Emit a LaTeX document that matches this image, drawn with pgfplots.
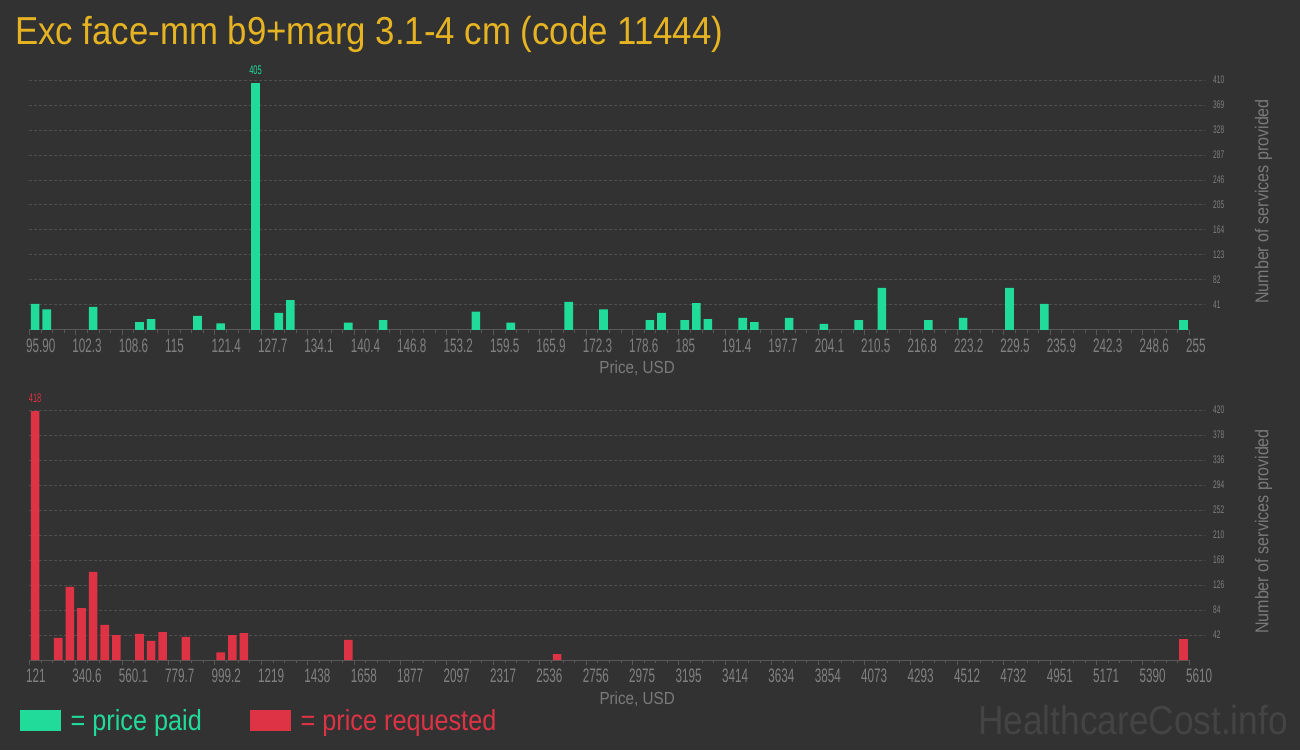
\documentclass[border=0pt]{standalone}
\usepackage{fontspec}
\setmainfont[FakeStretch=0.87]{Liberation Sans}
\newfontfamily\titlefont[FakeStretch=0.892]{Liberation Sans}
\newfontfamily\tickfont[FakeStretch=0.6]{Liberation Sans}
\usepackage{pgfplots}
\usepackage{pgfplotstable}
\pgfplotsset{compat=1.18}
\definecolor{bg}{HTML}{323232}
\definecolor{paid}{HTML}{21DB9A}
\definecolor{req}{HTML}{DD3344}
\definecolor{ttl}{HTML}{E6B422}
\definecolor{ticktext}{HTML}{808080}
\definecolor{labeltext}{HTML}{7A7A7A}
\definecolor{gridc}{HTML}{4E4E4E}
\definecolor{axisc}{HTML}{585858}
\definecolor{wm}{HTML}{444444}

\pgfplotstableread{
x y
96.70 43
98.29 34
104.65 38
111.01 13
112.61 18
118.97 23
122.15 11
126.93 405
130.11 28
131.70 49
139.65 12
144.43 16
157.15 30
161.93 12
169.88 46
174.65 34
181.02 16
182.61 28
185.79 16
187.38 44
188.97 18
193.75 20
195.34 13
200.11 20
204.88 10
209.66 16
212.84 69
219.20 16
223.98 20
230.34 69
235.11 43
254.20 16
}\paidtable

\pgfplotstableread{
x y
148.4 418
258.2 37
313.1 123
368.0 87
422.9 148
477.8 59
532.7 42
642.5 44
697.3 32
752.2 47
862.0 39
1026.7 13
1081.6 42
1136.5 45
1630.5 34
2618.5 10
5582.6 35
}\reqtable

\pgfplotsset{
  hc/.style={
    scale only axis, width=1175.7pt, height=250pt,
    anchor=south west, ymin=0, clip=false,
    axis line style={draw=none},
    xtick pos=bottom, ytick pos=right, yticklabel pos=right,
    tick align=outside,
    major tick length=5pt, minor tick length=3pt,
    minor x tick num=3,
    every x tick/.style={draw=axisc, line width=1pt},
    every minor x tick/.style={draw=axisc, line width=0.8pt},
    every y tick/.style={draw=none},
    ymajorgrids,
    every axis grid/.style={draw=gridc, line width=1pt, dash pattern=on 3pt off 2pt},
    /pgf/number format/assume math mode=true,
    xticklabel style={font=\tickfont\fontsize{19.5}{19.5}\selectfont, text=ticktext, anchor=base west, inner sep=0pt, xshift=-3.5pt, yshift=-17.3pt},
    yticklabel style={font=\tickfont\fontsize{11}{11}\selectfont, text=ticktext, anchor=west, inner sep=0pt, xshift=3pt},
    xlabel={Price, USD},
    every axis x label/.style={at={(axis description cs:0.517,-0.176)}, anchor=base, font=\fontsize{17.5}{17.5}\selectfont, text=labeltext},
    ylabel={Number of services provided},
    every axis y label/.style={at={(axis description cs:1.0499,0.514)}, rotate=90, anchor=center, font=\fontsize{18.5}{18.5}\selectfont, text=labeltext},
  }
}

\begin{document}
\begin{tikzpicture}
\fill[bg] (0pt,0pt) rectangle (1300pt,750pt);
\node[anchor=base west, inner sep=0pt, text=ttl, font=\titlefont\fontsize{39}{39}\selectfont] at (15pt,705.7pt) {Exc face-mm b9+marg 3.1-4 cm (code 11444)};

\begin{axis}[hc, at={(29.3pt,420pt)},
  xmin=95.9, xmax=257.15, ymax=410,
  xtick={95.9,102.264,108.628,114.992,121.356,127.72,134.084,140.448,146.812,153.176,159.54,165.904,172.268,178.632,184.996,191.36,197.724,204.088,210.452,216.816,223.18,229.544,235.908,242.272,248.636,255},
  xticklabels={95.90,102.3,108.6,115,121.4,127.7,134.1,140.4,146.8,153.2,159.5,165.9,172.3,178.6,185,191.4,197.7,204.1,210.5,216.8,223.2,229.5,235.9,242.3,248.6,255},
  ytick={41,82,123,164,205,246,287,328,369,410},
]
\draw[axisc, line width=1pt] (axis cs:95.9,0) -- (axis cs:255,0);
\addplot[ybar, bar width=8.6pt, bar shift=0pt, fill=paid, draw=none] table[x=x,y=y] {\paidtable};
\addplot[draw=none, nodes near coords, point meta=explicit symbolic,
  every node near coord/.append style={anchor=base, yshift=9pt, inner sep=0pt, font=\tickfont\fontsize{12.5}{12.5}\selectfont, text=paid}]
  coordinates {(126.93,405) [405]};
\end{axis}

\begin{axis}[hc, at={(29.3pt,90pt)},
  xmin=121, xmax=5684.3, ymax=420,
  xtick={121,340.56,560.12,779.68,999.24,1218.8,1438.36,1657.92,1877.48,2097.04,2316.6,2536.16,2755.72,2975.28,3194.84,3414.4,3633.96,3853.52,4073.08,4292.64,4512.2,4731.76,4951.32,5170.88,5390.44,5610},
  xticklabels={121,340.6,560.1,779.7,999.2,1219,1438,1658,1877,2097,2317,2536,2756,2975,3195,3414,3634,3854,4073,4293,4512,4732,4951,5171,5390,5610},
  ytick={42,84,126,168,210,252,294,336,378,420},
  scaled x ticks=false,
]
\draw[axisc, line width=1pt] (axis cs:121,0) -- (axis cs:5610,0);
\addplot[ybar, bar width=8.6pt, bar shift=0pt, fill=req, draw=none] table[x=x,y=y] {\reqtable};
\addplot[draw=none, nodes near coords, point meta=explicit symbolic,
  every node near coord/.append style={anchor=base, yshift=9pt, inner sep=0pt, font=\tickfont\fontsize{12.5}{12.5}\selectfont, text=req}]
  coordinates {(148.4,418) [418]};
\end{axis}

\fill[paid] (20pt,19pt) rectangle (61pt,40pt);
\node[anchor=base west, inner sep=0pt, text=paid, font=\fontsize{29}{29}\selectfont] at (70.5pt,19.3pt) {= price paid};
\fill[req] (250pt,19pt) rectangle (291pt,40pt);
\node[anchor=base west, inner sep=0pt, text=req, font=\fontsize{29}{29}\selectfont] at (300.5pt,19.3pt) {= price requested};
\node[anchor=base east, inner sep=0pt, text=wm, font=\fontsize{40.5}{40.5}\selectfont] at (1288pt,15.7pt) {HealthcareCost.info};

\pgfresetboundingbox
\useasboundingbox (0pt,0pt) rectangle (1300pt,750pt);
\end{tikzpicture}
\end{document}
